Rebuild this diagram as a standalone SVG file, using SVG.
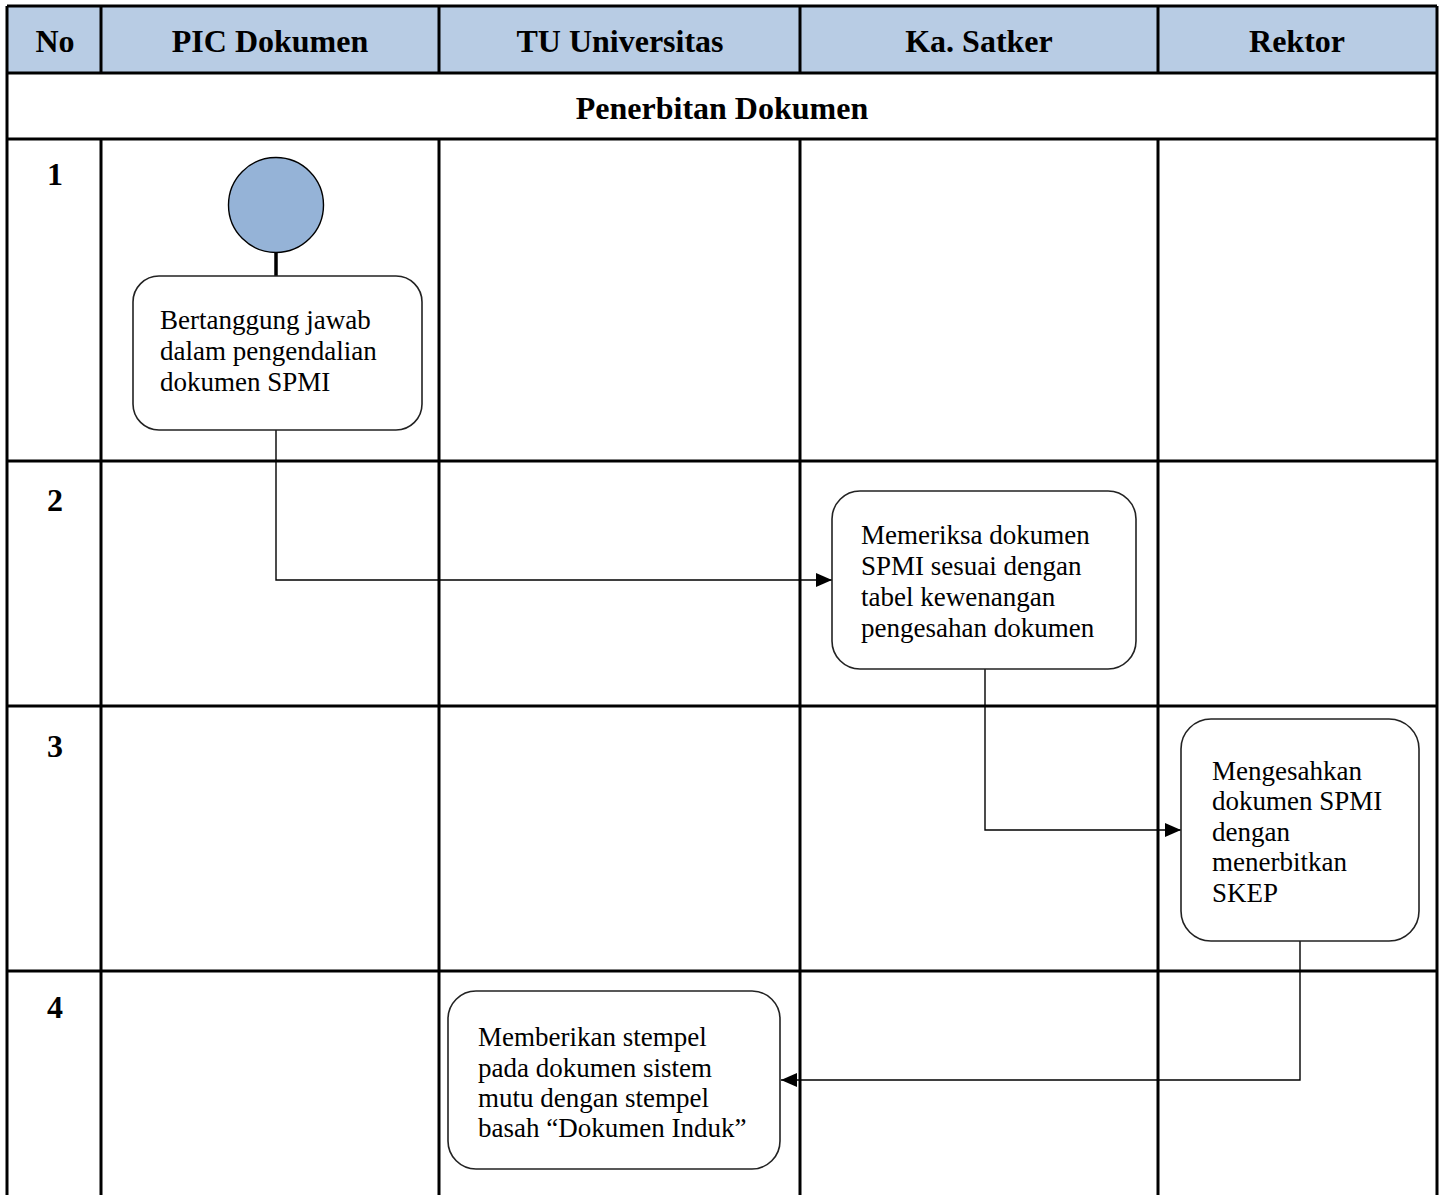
<svg xmlns="http://www.w3.org/2000/svg" width="1443" height="1195" viewBox="0 0 1443 1195">
<style>
.grid{stroke:#000;stroke-width:3;fill:none}
.hdr{font-family:"Liberation Serif","Times New Roman",serif;font-weight:bold;font-size:32px;text-anchor:middle;fill:#000}
.num{font-family:"Liberation Serif","Times New Roman",serif;font-weight:bold;font-size:32px;text-anchor:middle;fill:#000}
.box{fill:#fff;stroke:#222;stroke-width:1.6}
.txt{font-family:"Liberation Serif","Times New Roman",serif;font-size:27px;fill:#000}
.con{stroke:#000;stroke-width:1.4;fill:none}
</style>
<defs>
<marker id="arr" viewBox="0 0 16 14" refX="16" refY="7" markerWidth="16" markerHeight="14" markerUnits="userSpaceOnUse" orient="auto">
<path d="M0,0 L16,7 L0,14 Z" fill="#000"/>
</marker>
</defs>
<rect x="0" y="0" width="1443" height="1195" fill="#fff"/>
<g id="table">
<rect x="7" y="6" width="1430" height="67" fill="#B8CCE4"/>
<path class="grid" d="M7,6 H1437 M7,6 V1195 M1437,6 V139 M7,73 H1437 M7,139 H1437 M7,461 H1437 M7,706 H1437 M7,971 H1437 M101,6 V73 M439,6 V73 M800,6 V73 M1158,6 V73 M101,139 V1195 M439,139 V1195 M800,139 V1195 M1158,139 V1195 M1437,139 V1195"/>
<text class="hdr" x="55" y="52">No</text>
<text class="hdr" x="270" y="52">PIC Dokumen</text>
<text class="hdr" x="620" y="52">TU Universitas</text>
<text class="hdr" x="979" y="52">Ka. Satker</text>
<text class="hdr" x="1297" y="52">Rektor</text>
<text class="hdr" x="722" y="119">Penerbitan Dokumen</text>
<text class="num" x="55" y="185">1</text>
<text class="num" x="55" y="511">2</text>
<text class="num" x="55" y="757">3</text>
<text class="num" x="55" y="1018">4</text>
</g>
<g id="connectors">
<line x1="276" y1="252" x2="276" y2="276" stroke="#000" stroke-width="3.5"/>
<path class="con" d="M276,430 V580 H832" marker-end="url(#arr)"/>
<path class="con" d="M985,669 V830 H1181" marker-end="url(#arr)"/>
<path class="con" d="M1300,941 V1080 H781" marker-end="url(#arr)"/>
</g>
<g id="start">
<circle cx="276" cy="205" r="47.5" fill="#95B3D7" stroke="#000" stroke-width="1.4"/>
</g>
<g id="step1">
<rect class="box" x="133" y="276" width="289" height="154" rx="26"/>
<text class="txt" x="160" y="329">Bertanggung jawab</text>
<text class="txt" x="160" y="360">dalam pengendalian</text>
<text class="txt" x="160" y="391">dokumen SPMI</text>
</g>
<g id="step2">
<rect class="box" x="832" y="491" width="304" height="178" rx="28"/>
<text class="txt" x="861" y="544">Memeriksa dokumen</text>
<text class="txt" x="861" y="575">SPMI sesuai dengan</text>
<text class="txt" x="861" y="606">tabel kewenangan</text>
<text class="txt" x="861" y="637">pengesahan dokumen</text>
</g>
<g id="step3">
<rect class="box" x="1181" y="719" width="238" height="222" rx="30"/>
<text class="txt" x="1212" y="780">Mengesahkan</text>
<text class="txt" x="1212" y="810">dokumen SPMI</text>
<text class="txt" x="1212" y="841">dengan</text>
<text class="txt" x="1212" y="871">menerbitkan</text>
<text class="txt" x="1212" y="902">SKEP</text>
</g>
<g id="step4">
<rect class="box" x="448" y="991" width="332" height="178" rx="28"/>
<text class="txt" x="478" y="1046">Memberikan stempel</text>
<text class="txt" x="478" y="1077">pada dokumen sistem</text>
<text class="txt" x="478" y="1107">mutu dengan stempel</text>
<text class="txt" x="478" y="1137">basah “Dokumen Induk”</text>
</g>
</svg>
